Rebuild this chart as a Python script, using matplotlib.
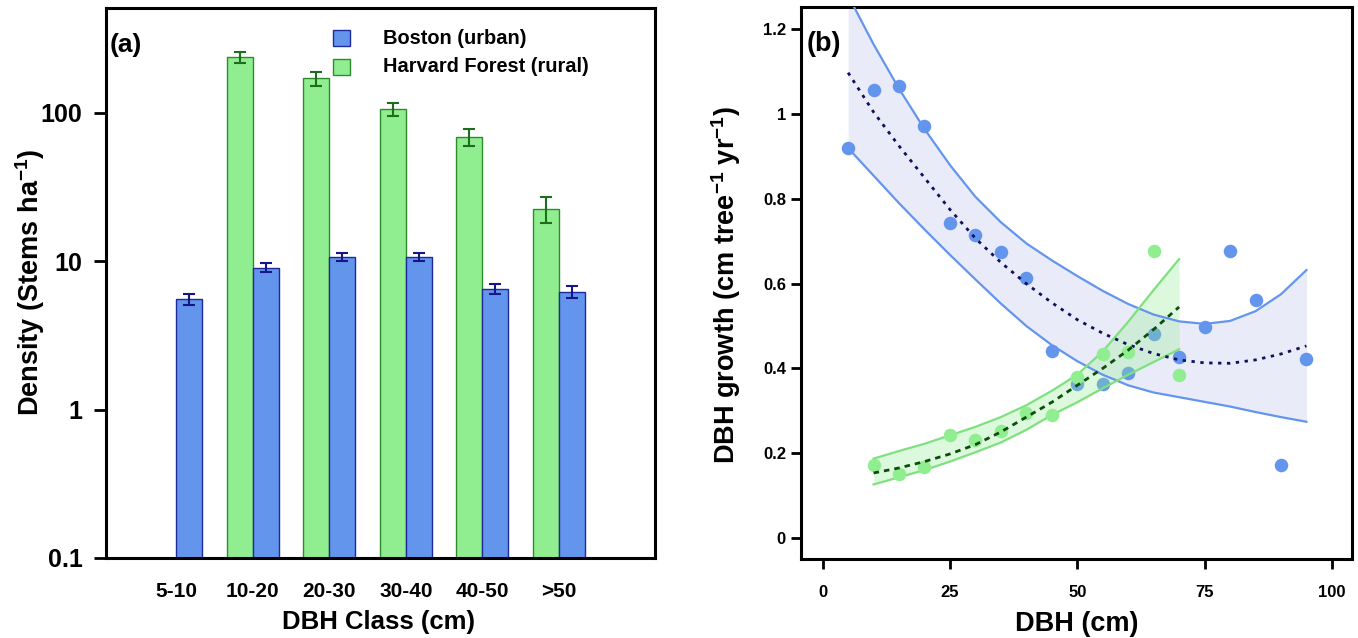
import matplotlib
matplotlib.use("Agg")
import matplotlib.pyplot as plt
from matplotlib.patches import Rectangle
import numpy as np

plt.rcParams['font.family'] = ['Liberation Sans', 'DejaVu Sans']
plt.rcParams['font.weight'] = 'bold'
plt.rcParams['mathtext.fontset'] = 'custom'
plt.rcParams['mathtext.rm'] = 'Liberation Sans'
plt.rcParams['mathtext.bf'] = 'Liberation Sans:bold'
plt.rcParams['mathtext.default'] = 'bf'

# ---------------- Panel (a) data ----------------
dbh_classes = ["5-10", "10-20", "20-30", "30-40", "40-50", ">50"]
boston_density = [5.54, 9.05, 10.74, 10.74, 6.54, 6.24]
boston_err = [0.45, 0.63, 0.70, 0.70, 0.50, 0.54]
harvard_density = [np.nan, 237.0, 171.0, 106.0, 69.0, 22.6]
harvard_err = [np.nan, 21.0, 18.0, 10.6, 8.7, 4.5]
density_ticks = [0.1, 1, 10, 100]
density_ticklabels = ["0.1", "1", "10", "100"]

# ---------------- Panel (b) data ----------------
boston_dbh = [5, 10, 15, 20, 25, 30, 35, 40, 45, 50, 55, 60, 65, 70, 75, 80, 85, 90, 95]
boston_growth = [0.921, 1.056, 1.067, 0.973, 0.744, 0.716, 0.674, 0.614, 0.441,
                 0.362, 0.362, 0.388, 0.481, 0.426, 0.498, 0.676, 0.561, 0.171, 0.422]
boston_fit = [1.098, 1.005, 0.925, 0.850, 0.775, 0.707, 0.650, 0.600, 0.555,
              0.515, 0.483, 0.456, 0.435, 0.420, 0.413, 0.412, 0.420, 0.434, 0.453]
boston_upper = [1.280, 1.165, 1.060, 0.965, 0.880, 0.805, 0.745, 0.695, 0.655,
                0.618, 0.583, 0.552, 0.527, 0.511, 0.505, 0.512, 0.535, 0.575, 0.632]
boston_lower = [0.920, 0.855, 0.790, 0.728, 0.668, 0.610, 0.553, 0.500, 0.455,
                0.417, 0.385, 0.360, 0.343, 0.332, 0.321, 0.310, 0.297, 0.285, 0.274]

harvard_dbh = [10, 15, 20, 25, 30, 35, 40, 45, 50, 55, 60, 65, 70]
harvard_growth = [0.172, 0.150, 0.168, 0.242, 0.231, 0.252, 0.294, 0.290,
                  0.379, 0.433, 0.439, 0.677, 0.385]
harvard_fit = [0.153, 0.165, 0.180, 0.198, 0.220, 0.250, 0.285, 0.320,
               0.360, 0.400, 0.443, 0.492, 0.545]
harvard_upper = [0.187, 0.205, 0.222, 0.242, 0.262, 0.285, 0.313, 0.347,
                 0.385, 0.440, 0.510, 0.585, 0.658]
harvard_lower = [0.126, 0.143, 0.160, 0.180, 0.202, 0.225, 0.255, 0.290,
                 0.320, 0.353, 0.385, 0.415, 0.445]
growth_ticks = [0, 0.2, 0.4, 0.6, 0.8, 1.0, 1.2]
growth_ticklabels = ["0", "0.2", "0.4", "0.6", "0.8", "1", "1.2"]
dbh_ticks = [0, 25, 50, 75, 100]

# ---------------- Colors ----------------
blue = "#6495ED"
blue_edge = "#1E2A9A"
blue_err = "#16168A"
green = "#90EE90"
green_edge = "#2E8B2E"
green_err = "#1C6E1C"

fig = plt.figure(figsize=(13.58, 6.38), dpi=100)

# ================= Panel (a) =================
ax1 = fig.add_axes([0.0781, 0.1254, 0.4043, 0.8628])
x = np.arange(len(dbh_classes))
w = 0.34
ymin_a = 0.1
ax1.set_yscale('log')
ax1.bar(x - w / 2, np.array(harvard_density) - ymin_a, width=w, bottom=ymin_a,
        color=green, edgecolor=green_edge, linewidth=1.0, zorder=2)
ax1.bar(x + w / 2, np.array(boston_density) - ymin_a, width=w, bottom=ymin_a,
        color=blue, edgecolor=blue_edge, linewidth=1.0, zorder=2)
ax1.errorbar(x - w / 2, harvard_density, yerr=harvard_err, fmt='none',
             ecolor=green_err, elinewidth=1.5, capsize=4, capthick=1.5, zorder=3)
ax1.errorbar(x + w / 2, boston_density, yerr=boston_err, fmt='none',
             ecolor=blue_err, elinewidth=1.5, capsize=4, capthick=1.5, zorder=3)
ax1.set_ylim(0.1, 514)
ax1.set_xlim(-0.92, 6.26)
ax1.set_yticks(density_ticks)
ax1.set_yticklabels(density_ticklabels)
ax1.minorticks_off()
ax1.set_xticks(x)
ax1.set_xticklabels(dbh_classes)
ax1.tick_params(axis='x', length=0, pad=17, labelsize=15)
ax1.tick_params(axis='y', length=8.5, width=2, pad=8.5, labelsize=18)
for lab in ax1.get_xticklabels() + ax1.get_yticklabels():
    lab.set_fontweight('bold')
for s in ax1.spines.values():
    s.set_linewidth(2.2)
ax1.set_xlabel("DBH Class (cm)", fontsize=18.5, fontweight='bold')
ax1.set_ylabel(r"Density (Stems ha$^{\mathrm{-1}}$)", fontsize=19.5,
               fontweight='bold')
ax1.xaxis.set_label_coords(0.496, -0.095)
ax1.yaxis.set_label_coords(-0.107, 0.5)
ax1.text(0.007, 0.932, "(a)", transform=ax1.transAxes, fontsize=19,
         fontweight='bold', va='center', ha='left')
# legend
ax1.add_patch(Rectangle((0.4135, 0.930), 0.031, 0.029, transform=ax1.transAxes,
                        facecolor=blue, edgecolor=blue_edge, linewidth=1.0,
                        clip_on=False))
ax1.add_patch(Rectangle((0.4135, 0.877), 0.031, 0.029, transform=ax1.transAxes,
                        facecolor=green, edgecolor=green_edge, linewidth=1.0,
                        clip_on=False))
ax1.text(0.5046, 0.943, "Boston (urban)", transform=ax1.transAxes,
         fontsize=14.4, fontweight='bold', va='center', ha='left')
ax1.text(0.5046, 0.892, "Harvard Forest (rural)", transform=ax1.transAxes,
         fontsize=14.4, fontweight='bold', va='center', ha='left')

# ================= Panel (b) =================
ax2 = fig.add_axes([0.5898, 0.1238, 0.4056, 0.8652])
ax2.fill_between(boston_dbh, boston_lower, boston_upper, color="#E9ECF8",
                 linewidth=0, zorder=1)
ax2.scatter(boston_dbh, boston_growth, s=95, color=blue, linewidths=0, zorder=2)
ax2.fill_between(harvard_dbh, harvard_lower, harvard_upper, color=green,
                 alpha=0.3, linewidth=0, zorder=3)
ax2.plot(boston_dbh, boston_upper, color=blue, lw=1.6, zorder=4)
ax2.plot(boston_dbh, boston_lower, color=blue, lw=1.6, zorder=4)
ax2.plot(harvard_dbh, harvard_upper, color="#7FE07F", lw=1.6, zorder=4)
ax2.plot(harvard_dbh, harvard_lower, color="#7FE07F", lw=1.6, zorder=4)
ax2.plot(boston_dbh, boston_fit, color="#10105E", lw=2.0,
         linestyle=(0, (1.2, 2.0)), zorder=5)
ax2.scatter(harvard_dbh, harvard_growth, s=95, color=green, linewidths=0, zorder=5)
ax2.plot(harvard_dbh, harvard_fit, color="#0B4D0B", lw=2.0,
         linestyle=(0, (2.0, 1.8)), zorder=6)
ax2.set_xlim(-4.26, 103.9)
ax2.set_ylim(-0.050, 1.253)
ax2.set_xticks(dbh_ticks)
ax2.set_xticklabels([str(t) for t in dbh_ticks])
ax2.set_yticks(growth_ticks)
ax2.set_yticklabels(growth_ticklabels)
ax2.tick_params(axis='both', length=7.4, width=2, labelsize=12)
ax2.tick_params(axis='x', pad=11.5)
ax2.tick_params(axis='y', pad=3.4)
for lab in ax2.get_xticklabels() + ax2.get_yticklabels():
    lab.set_fontweight('bold')
for s in ax2.spines.values():
    s.set_linewidth(2.2)
ax2.set_xlabel("DBH (cm)", fontsize=19.5, fontweight='bold')
ax2.set_ylabel(r"DBH growth (cm tree$^{\mathrm{-1}}$ yr$^{\mathrm{-1}}$)",
               fontsize=19.5, fontweight='bold')
ax2.xaxis.set_label_coords(0.5, -0.094)
ax2.yaxis.set_label_coords(-0.106, 0.497)
ax2.text(0.011, 0.933, "(b)", transform=ax2.transAxes, fontsize=19.5,
         fontweight='bold', va='center', ha='left')

fig.savefig("out.png", dpi=100)
